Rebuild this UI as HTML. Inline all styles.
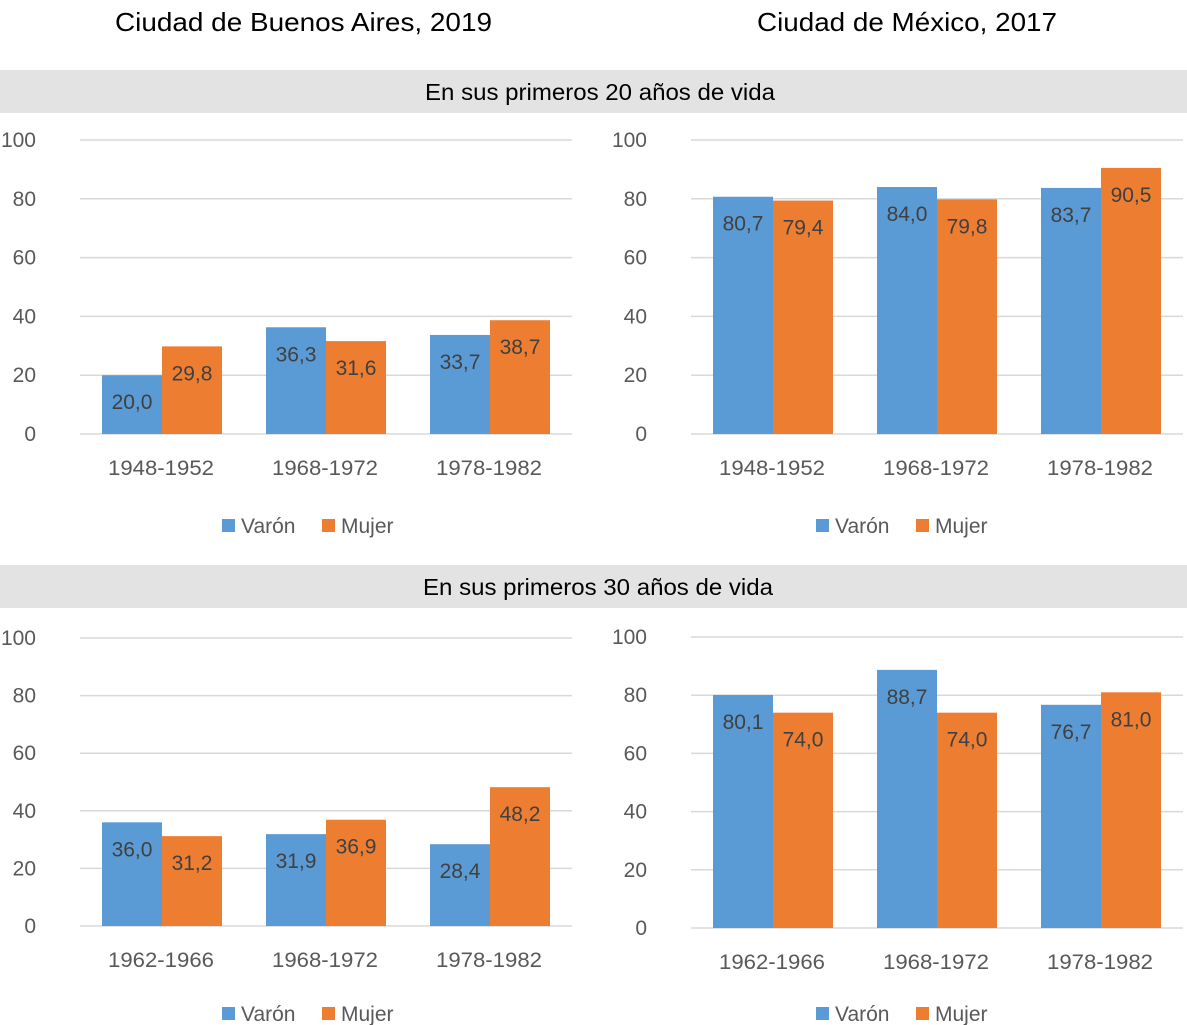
<!DOCTYPE html>
<html><head><meta charset="utf-8"><style>
body{margin:0;background:#fff;width:1187px;height:1025px;overflow:hidden;font-family:"Liberation Sans",sans-serif}
svg{position:absolute;left:0;top:0}
</style></head><body>
<svg id="s" width="1187" height="1025">
<text x="115" y="31" font-size="26" textLength="377" lengthAdjust="spacingAndGlyphs" fill="#000">Ciudad de Buenos Aires, 2019</text>
<text x="757" y="31" font-size="26" textLength="300" lengthAdjust="spacingAndGlyphs" fill="#000">Ciudad de México, 2017</text>
<rect x="0" y="70" width="1187" height="43" fill="#e3e3e3"/>
<text x="425" y="100" font-size="23" textLength="350" lengthAdjust="spacingAndGlyphs" fill="#000">En sus primeros 20 años de vida</text>
<rect x="0" y="565" width="1187" height="43" fill="#e3e3e3"/>
<text x="423" y="595" font-size="23" textLength="350" lengthAdjust="spacingAndGlyphs" fill="#000">En sus primeros 30 años de vida</text>
</svg>
<script>
const catsTop=["1948-1952","1968-1972","1978-1982"];
const catsBot=["1962-1966","1968-1972","1978-1982"];
const baTopVaron=[20.0,36.3,33.7];
const baTopMujer=[29.8,31.6,38.7];
const mxTopVaron=[80.7,84.0,83.7];
const mxTopMujer=[79.4,79.8,90.5];
const baBotVaron=[36.0,31.9,28.4];
const baBotMujer=[31.2,36.9,48.2];
const mxBotVaron=[80.1,88.7,76.7];
const mxBotMujer=[74.0,74.0,81.0];
const yTicks=[0,20,40,60,80,100];

const NS="http://www.w3.org/2000/svg";
const svg=document.getElementById('s');
function mk(tag,attrs,parent){const e=document.createElementNS(NS,tag);for(const k in attrs)e.setAttribute(k,attrs[k]);(parent||svg).appendChild(e);return e;}
function chart(id,x0,x1,yZero,yTop,cats,varon,mujer,lx,ly){
  const g=mk('g',{});
  
  
  const y=v=>yZero-(yZero-yTop)*v/100;
  const cw=(x1-x0)/cats.length;
  yTicks.forEach(t=>{
    const l=mk('line',{x1:x0,x2:x1,y1:y(t),y2:y(t),stroke:'#d9d9d9','stroke-width':1.5},g);
    
    
    const tx=mk('text',{x:x0-44,y:y(t)+7,'font-size':21,'text-anchor':'end',fill:'#595959'},g);
    tx.textContent=t;
    
    
  });
  cats.forEach((c,i)=>{
    const cx=x0+cw*(i+0.5);
    [[varon[i],'#5b9bd5',-60,'varon'],[mujer[i],'#ed7d31',0,'mujer']].forEach(([v,col,off,nm])=>{
      const r=mk('rect',{x:cx+off,y:y(v),width:60,height:yZero-y(v),fill:col},g);
      
      
      const t=mk('text',{x:cx+off+30,y:y(v)+34,'font-size':21,'text-anchor':'middle',fill:'#404040'},g);
      t.textContent=v.toFixed(1).replace('.',',');
      
      
    });
    const cl=mk('text',{x:cx-1,y:yZero+41,'font-size':21,'text-anchor':'middle',fill:'#595959',textLength:106,lengthAdjust:'spacingAndGlyphs'},g);
    cl.textContent=c;
    
    
  });
  [['Varón','#5b9bd5',0],['Mujer','#ed7d31',100]].forEach(([n,col,o])=>{
    const r=mk('rect',{x:lx+o,y:ly-13,width:13,height:13,fill:col},g);
    
    
    const t=mk('text',{x:lx+o+19,y:ly+1,'font-size':21,fill:'#595959'},g);
    t.textContent=n;
    
    
  });
}
chart('chart-ba-20',80,572,434,140,catsTop,baTopVaron,baTopMujer,222,532);
chart('chart-mx-20',691,1183,434,140,catsTop,mxTopVaron,mxTopMujer,816,532);
chart('chart-ba-30',80,572,926,638,catsBot,baBotVaron,baBotMujer,222,1020);
chart('chart-mx-30',691,1183,928,637,catsBot,mxBotVaron,mxBotMujer,816,1020);
</script>
</body></html>
